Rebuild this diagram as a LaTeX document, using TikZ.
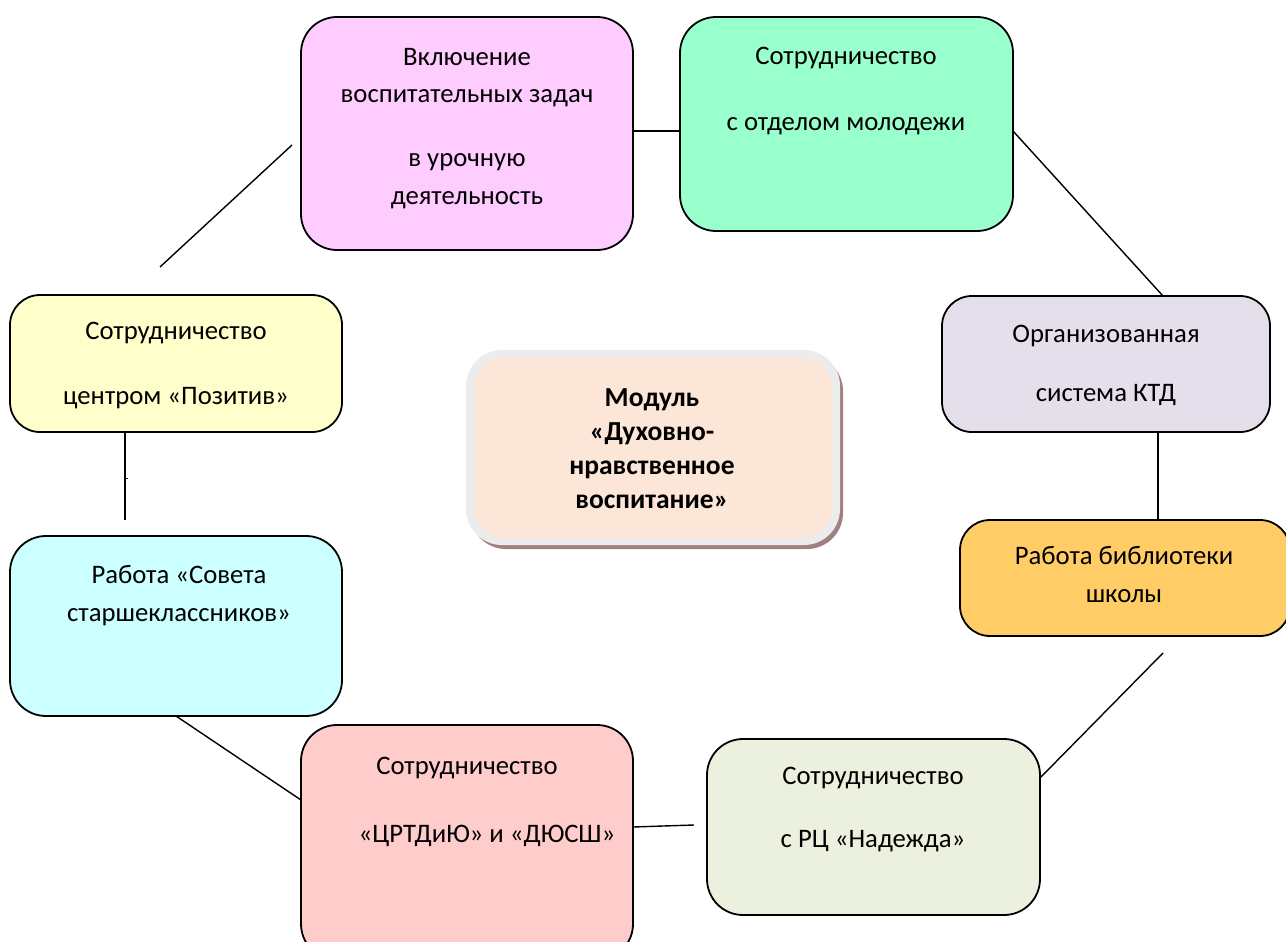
\documentclass[tikz,border=0pt]{standalone}
\usepackage{fontspec}
\setmainfont{Carlito}
\definecolor{cpink}{HTML}{FFCCFF}
\definecolor{cgreen}{HTML}{99FFCC}
\definecolor{clav}{HTML}{E5DFEC}
\definecolor{corange}{HTML}{FFCC66}
\definecolor{clgreen}{HTML}{EBF1DE}
\definecolor{cred}{HTML}{FFCCCC}
\definecolor{ccyan}{HTML}{CCFFFF}
\definecolor{cyellow}{HTML}{FFFFCC}
\definecolor{cpeach}{HTML}{FBE6D8}
\definecolor{cglow}{HTML}{ECECEC}
\definecolor{cshadow}{HTML}{A08080}
\begin{document}
\begin{tikzpicture}[x=1pt,y=-1pt,
  box/.style={draw=black,line width=1.8pt,rounded corners=36pt},
  txt/.style={font=\fontsize{26.7}{32}\selectfont,text height=0.7em,text depth=0.22em,inner sep=0pt,yshift=-6pt},
  btxt/.style={font=\fontsize{27.5}{32}\selectfont\bfseries,text height=0.7em,text depth=0.22em,inner sep=0pt,yshift=-6pt},
  link/.style={draw=black,line width=1.4pt}]
\useasboundingbox (0,0) rectangle (1286,942);
% boxes
\draw[box,fill=cpink] (301,17) rectangle (633,250);
\draw[box,fill=cgreen] (680,17) rectangle (1013,231);
\draw[box,fill=clav,rounded corners=30pt] (942,296) rectangle (1270,432);
\draw[box,fill=corange,rounded corners=30pt] (960,520) rectangle (1290,636);
\draw[box,fill=clgreen] (707,739) rectangle (1040,915);
\draw[box,fill=cred] (301,725) rectangle (633,960);
\draw[box,fill=ccyan] (10,536) rectangle (342,716);
\draw[box,fill=cyellow,rounded corners=30pt] (10,295) rectangle (342,432);
% centre box
\fill[cshadow,rounded corners=36pt] (470,355) rectangle (843,549);
\fill[cglow,rounded corners=36pt] (466,350) rectangle (840,545);
\fill[cpeach,rounded corners=30pt] (474,358) rectangle (832,538);
% connector coordinates
\coordinate (a1) at (633,131); \coordinate (a2) at (680,131);
\coordinate (b1) at (1013,131); \coordinate (b2) at (1163,296);
\coordinate (c1) at (1158,432); \coordinate (c2) at (1158,520);
\coordinate (d1) at (1163,653); \coordinate (d2) at (1040,778);
\coordinate (e1) at (694,825); \coordinate (e2) at (633,827);
\coordinate (f1) at (301,800); \coordinate (f2) at (176,716);
\coordinate (g1) at (125,520); \coordinate (g2) at (125,432);
\coordinate (h1) at (160,267); \coordinate (h2) at (292,145);
\coordinate (t1) at (125,478); \coordinate (t2) at (128,478);
\draw[link] (a1) -- (a2);
\draw[link] (b1) -- (b2);
\draw[link] (c1) -- (c2);
\draw[link] (d1) -- (d2);
\draw[link] (e1) -- (e2);
\draw[link] (f1) -- (f2);
\draw[link] (g1) -- (g2);
\draw[link] (h1) -- (h2);
\draw[line width=0.8pt] (t1) -- (t2);
% texts
\node[txt] (p1) at (467,57) {Включение};
\node[txt] (p2) at (467,94) {воспитательных задач};
\node[txt] (p3) at (467,158) {в урочную};
\node[txt] (p4) at (467,196) {деятельность};
\node[txt] (g1t) at (846,56) {Сотрудничество};
\node[txt] (g2t) at (846,122) {с отделом молодежи};
\node[txt] (l1) at (1106,334) {Организованная};
\node[txt] (l2) at (1106,393) {система КТД};
\node[txt] (o1) at (1124,556) {Работа библиотеки};
\node[txt] (o2) at (1124,594) {школы};
\node[txt] (n1) at (873,776) {Сотрудничество};
\node[txt] (n2) at (873,839) {с РЦ «Надежда»};
\node[txt] (r1) at (467,766) {Сотрудничество};
\node[txt] (r2) at (487,834) {«ЦРТДиЮ» и «ДЮСШ»};
\node[txt] (s1) at (179,575) {Работа «Совета};
\node[txt] (s2) at (179,613) {старшеклассников»};
\node[txt] (y1) at (176,331) {Сотрудничество};
\node[txt] (y2) at (176,396) {центром «Позитив»};
\node[btxt] (m1) at (652,398) {Модуль};
\node[btxt] (m2) at (652,432) {«Духовно-};
\node[btxt] (m3) at (652,466) {нравственное};
\node[btxt] (m4) at (652,500) {воспитание»};
\end{tikzpicture}
\end{document}
